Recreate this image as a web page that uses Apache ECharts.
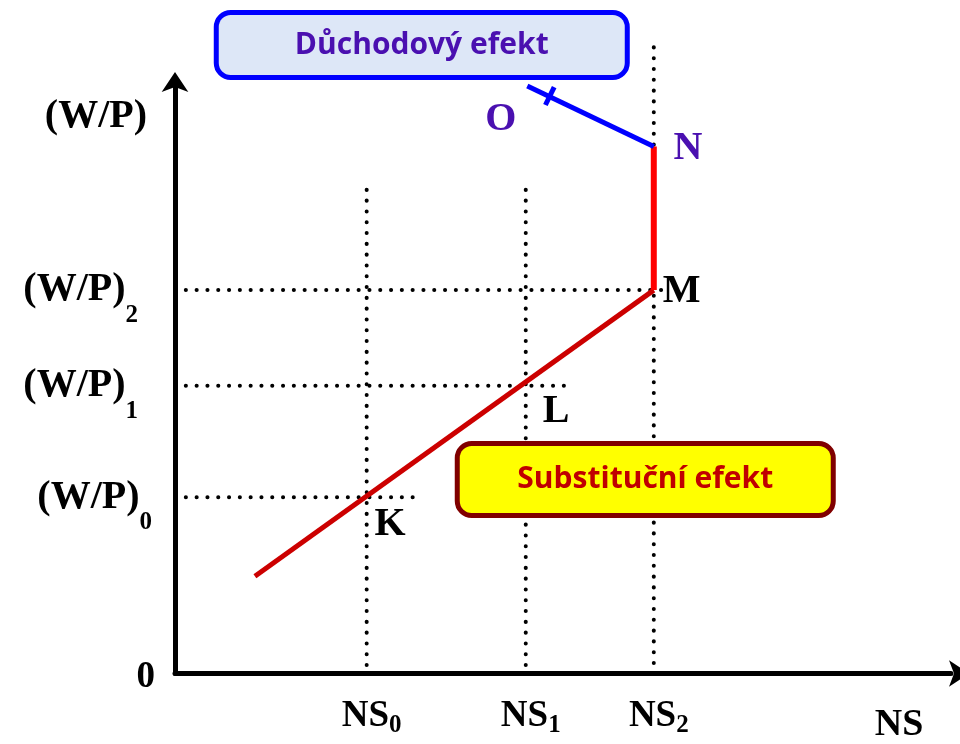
<!DOCTYPE html>
<html><head><meta charset="utf-8">
<script src="https://cdn.jsdelivr.net/npm/echarts@6/dist/echarts.min.js"></script>
<style>html,body{margin:0;padding:0;background:#fff}#c{width:960px;height:744px}</style>
</head><body><div id="c"></div>
<script>
// ---- data (axis units: 0..100 on both axes) ----
const nsTicks = [24.7, 45.2, 61.7];
const nsTickMain = ['NS', 'NS', 'NS'];
const nsTickSub = ['0', '1', '2'];
const nsAxisTitle = 'NS';
const nsAxisTitlePos = 93.3;
const wpTicks = [0, 29.7, 48.5, 64.6, 93.8];
const wpTickMain = ['0', '(W/P)', '(W/P)', '(W/P)', '(W/P)'];
const wpTickSub = ['', '0', '1', '2', ''];
const substitutionLine = [[10.3, 16.4], [61.7, 64.6]];
const verticalSegment = [[61.7, 64.6], [61.7, 88.8]];
const incomeLine = [[61.7, 88.8], [45.4, 99.0]];
const incomeTick = [[48.3, 97.3]];
const pointNames = ['K', 'L', 'M', 'N', 'O'];
const pointLabelPos = [[27.7, 25.0], [49.1, 44.1], [65.3, 64.3], [66.1, 88.4], [42.0, 93.3]];
const nsGuideTop = [81.5, 81.5, 105.5];
const wpGuideEnd = [31.8, 50.9, 63.4];
const boxTexts = ['Důchodový efekt', 'Substituční efekt'];
const boxPos = [[31.8, 105.9], [60.6, 32.7]];

const SERIF = '"Liberation Serif", "Times New Roman", serif';
const PURPLE = '#4a10b0';
const chart = echarts.init(document.getElementById('c'));

const dotStyle = { color: '#000', width: 4, type: [0.1, 10.7], cap: 'round' };
const series = [];
nsTicks.forEach((x, i) => {
  series.push({ type: 'line', data: [[x, nsGuideTop[i]], [x, 0]], symbol: 'none', clip: false, silent: true, z: 1, lineStyle: dotStyle });
});
wpGuideEnd.forEach((xe, i) => {
  const y = wpTicks[i + 1];
  series.push({ type: 'line', data: [[0, y], [xe, y]], symbol: 'none', clip: false, silent: true, z: 1, lineStyle: dotStyle });
});
series.push({ type: 'line', data: substitutionLine, symbol: 'none', clip: false, z: 3, lineStyle: { color: '#cc0000', width: 5 } });
series.push({ type: 'line', data: verticalSegment, symbol: 'none', clip: false, z: 3, lineStyle: { color: '#ff0000', width: 6 } });
series.push({ type: 'line', data: incomeLine, symbol: 'none', clip: false, z: 3, lineStyle: { color: '#0000ff', width: 5 } });
series.push({ type: 'scatter', data: incomeTick, symbol: 'rect', symbolSize: [5, 20], symbolRotate: -26, clip: false, z: 4, itemStyle: { color: '#0000ff', opacity: 1 } });
series.push({
  type: 'scatter', clip: false, z: 5, symbolSize: 1, itemStyle: { color: '#fff', opacity: 1 },
  data: pointLabelPos.map((p, i) => ({
    value: p, name: pointNames[i],
    label: { color: (pointNames[i] === 'N' || pointNames[i] === 'O') ? PURPLE : '#000' }
  })),
  label: {
    show: true, position: 'inside', formatter: p => p.name,
    fontFamily: SERIF, fontWeight: 'bold', fontSize: 40
  }
});
const boxStyles = [
  { bg: '#dde7f7', border: '#0000ff', color: PURPLE, w: 406, h: 60, fs: 30 },
  { bg: '#ffff00', border: '#800000', color: '#c00000', w: 371, h: 67, fs: 30 }
];
series.push({
  type: 'scatter', clip: false, z: 10, symbolSize: 1, itemStyle: { color: '#fff', opacity: 1 },
  data: boxPos.map((p, i) => ({
    value: p, name: boxTexts[i],
    label: {
      show: true, position: 'inside', formatter: boxTexts[i],
      width: boxStyles[i].w, height: boxStyles[i].h, lineHeight: boxStyles[i].h,
      align: 'center', verticalAlign: 'middle',
      backgroundColor: boxStyles[i].bg, borderColor: boxStyles[i].border,
      borderWidth: 5, borderRadius: 12,
      color: boxStyles[i].color, fontFamily: '"Open Sans", Lato, sans-serif',
      fontWeight: 'bold', fontSize: boxStyles[i].fs
    }
  }))
});

function nearest(arr, v) {
  let b = 0;
  arr.forEach((a, i) => { if (Math.abs(a - v) < Math.abs(arr[b] - v)) b = i; });
  return b;
}
const yPadStyle = ['m0', 'm', 'm', 'm', 'mp'];
const ySubStyle = ['s', 's0', 's', 's', 's'];
const xLabelValues = nsTicks.concat([nsAxisTitlePos]);

const option = {
  animation: false,
  grid: { left: 175, top: 80, width: 776, height: 596 },
  xAxis: {
    type: 'value', min: 0, max: 100,
    axisLine: { show: true, lineStyle: { color: '#000', width: 5 }, symbol: ['none', 'arrow'], symbolSize: [20, 20], symbolOffset: [0, 18] },
    axisTick: { show: false }, splitLine: { show: false },
    axisLabel: {
      customValues: xLabelValues, margin: 21, color: '#000',
      formatter: (v) => {
        if (Math.abs(v - nsAxisTitlePos) < 0.01) return '{t|' + nsAxisTitle + '}';
        const i = nearest(nsTicks, v);
        return '{m|' + nsTickMain[i] + '}{s|' + nsTickSub[i] + '}';
      },
      rich: {
        m: { fontFamily: SERIF, fontWeight: 'bold', fontSize: 37, lineHeight: 44, verticalAlign: 'middle', color: '#000', padding: [0, 0, 0, 10] },
        s: { fontFamily: SERIF, fontWeight: 'bold', fontSize: 25, lineHeight: 24, verticalAlign: 'bottom', color: '#000' },
        t: { fontFamily: SERIF, fontWeight: 'bold', fontSize: 38, lineHeight: 44, color: '#000', padding: [17, 0, 0, 0] }
      }
    }
  },
  yAxis: {
    type: 'value', min: 0, max: 100,
    axisLine: { show: true, lineStyle: { color: '#000', width: 5 }, symbol: ['none', 'arrow'], symbolSize: [20, 20], symbolOffset: [0, 8] },
    axisTick: { show: false }, splitLine: { show: false },
    axisLabel: {
      customValues: wpTicks, margin: 20, color: '#000',
      formatter: (v) => {
        const i = nearest(wpTicks, v);
        let s = '{' + yPadStyle[i] + '|' + wpTickMain[i] + '}';
        if (wpTickSub[i]) s += '{' + ySubStyle[i] + '|' + wpTickSub[i] + '}';
        return s;
      },
      rich: {
        m: { fontFamily: SERIF, fontWeight: 'bold', fontSize: 40, lineHeight: 76, verticalAlign: 'middle', color: '#000' },
        m0: { fontFamily: SERIF, fontWeight: 'bold', fontSize: 37, lineHeight: 44, verticalAlign: 'middle', color: '#000', padding: [8, 0, 0, 0] },
        mp: { fontFamily: SERIF, fontWeight: 'bold', fontSize: 40, lineHeight: 44, verticalAlign: 'middle', color: '#000', padding: [0, 8, 0, 0] },
        s: { fontFamily: SERIF, fontWeight: 'bold', fontSize: 25, lineHeight: 24, verticalAlign: 'bottom', color: '#000', padding: [0, 17, 0, 0] },
        s0: { fontFamily: SERIF, fontWeight: 'bold', fontSize: 25, lineHeight: 24, verticalAlign: 'bottom', color: '#000', padding: [0, 3, 0, 0] }
      }
    }
  },
  series: series
};
chart.setOption(option);
</script>
</body></html>
